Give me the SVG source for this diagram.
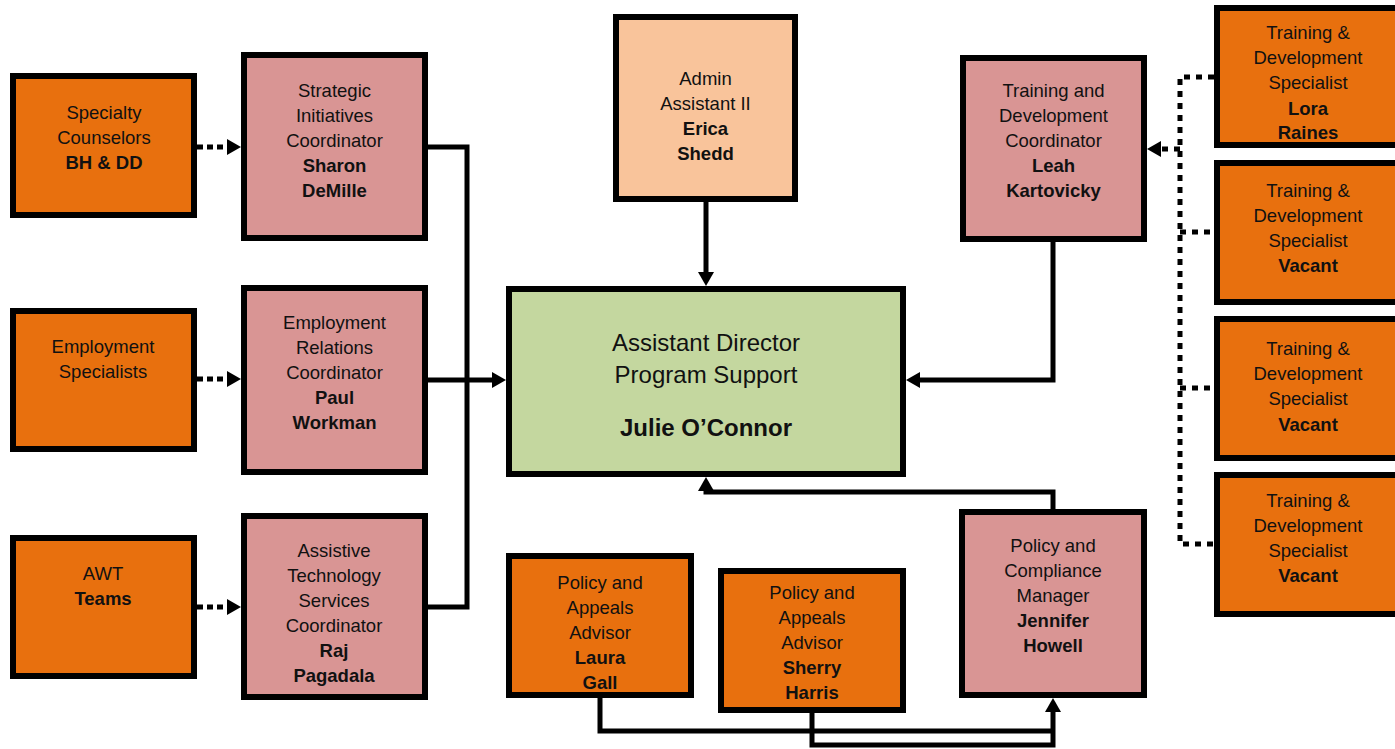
<svg xmlns="http://www.w3.org/2000/svg" width="1395" height="749" viewBox="0 0 1395 749">
<defs>
<style>
.box{stroke:#000;stroke-width:6}
.or{fill:#E8700E}
.pk{fill:#D99594}
.lo{fill:#F9C49B}
.gr{fill:#C4D79F}
text{font-family:"Liberation Sans",Arial,sans-serif;font-size:18.5px;fill:#111;text-anchor:middle}
.b{font-weight:bold}
.big{font-size:24px}
.ln{fill:none;stroke:#000;stroke-width:5}
.dot{fill:none;stroke:#000;stroke-width:5;stroke-dasharray:6 4}
.dot2{fill:none;stroke:#000;stroke-width:5;stroke-dasharray:6 6}
</style>
<marker id="ah" viewBox="0 0 14 16" refX="0" refY="8" markerWidth="14" markerHeight="16" markerUnits="userSpaceOnUse" orient="auto">
<path d="M0,0 L14,8 L0,16 z" fill="#000"/>
</marker>
</defs>
<rect width="1395" height="749" fill="#fff"/>

<g id="connectors">
<path class="dot" d="M197,147 H227" marker-end="url(#ah)"/>
<path class="dot" d="M197,379 H227" marker-end="url(#ah)"/>
<path class="dot" d="M197,607 H227" marker-end="url(#ah)"/>
<path class="ln" d="M428,147 H467 V607 H428"/>
<path class="ln" d="M428,380 H492" marker-end="url(#ah)"/>
<path class="ln" d="M706,202 V272" marker-end="url(#ah)"/>
<path class="ln" d="M1053,242 V380 H920" marker-end="url(#ah)"/>
<path class="ln" d="M1053,509 V492 H706 V491" marker-end="url(#ah)"/>
<path class="ln" d="M600,698 V731 H1053"/>
<path class="ln" d="M812,713 V745 H1053 V712" marker-end="url(#ah)"/>
<path class="dot2" d="M1214,77 H1180 V544 H1214"/>
<path class="dot2" d="M1180,232 H1214"/>
<path class="dot2" d="M1180,388 H1214"/>
<path class="dot2" d="M1180,149 H1161" marker-end="url(#ah)"/>
</g>

<g id="specialty-counselors">
<rect class="box or" x="13" y="76" width="181" height="139"/>
<text x="104" y="119">Specialty</text>
<text x="104" y="144">Counselors</text>
<text x="104" y="169" class="b">BH &amp; DD</text>
</g>

<g id="strategic-initiatives">
<rect class="box pk" x="244" y="55" width="181" height="183"/>
<text x="334.5" y="97">Strategic</text>
<text x="334.5" y="122">Initiatives</text>
<text x="334.5" y="147">Coordinator</text>
<text x="334.5" y="172" class="b">Sharon</text>
<text x="334.5" y="197" class="b">DeMille</text>
</g>

<g id="employment-specialists">
<rect class="box or" x="13" y="311" width="181" height="138"/>
<text x="103" y="353">Employment</text>
<text x="103" y="378">Specialists</text>
</g>

<g id="employment-relations">
<rect class="box pk" x="244" y="288" width="181" height="184"/>
<text x="334.5" y="329">Employment</text>
<text x="334.5" y="354">Relations</text>
<text x="334.5" y="379">Coordinator</text>
<text x="334.5" y="404" class="b">Paul</text>
<text x="334.5" y="429" class="b">Workman</text>
</g>

<g id="awt-teams">
<rect class="box or" x="13" y="538" width="181" height="138"/>
<text x="103" y="580">AWT</text>
<text x="103" y="605" class="b">Teams</text>
</g>

<g id="assistive-technology">
<rect class="box pk" x="244" y="516" width="181" height="181"/>
<text x="334" y="557">Assistive</text>
<text x="334" y="582">Technology</text>
<text x="334" y="607">Services</text>
<text x="334" y="632">Coordinator</text>
<text x="334" y="657" class="b">Raj</text>
<text x="334" y="682" class="b">Pagadala</text>
</g>

<g id="admin-assistant">
<rect class="box lo" x="616" y="17" width="179" height="182"/>
<text x="705.5" y="85">Admin</text>
<text x="705.5" y="110">Assistant II</text>
<text x="705.5" y="135" class="b">Erica</text>
<text x="705.5" y="160" class="b">Shedd</text>
</g>

<g id="assistant-director">
<rect class="box gr" x="509" y="289" width="394" height="185"/>
<text x="706" y="351" class="big">Assistant Director</text>
<text x="706" y="383" class="big">Program Support</text>
<text x="706" y="436" class="big b">Julie O’Connor</text>
</g>

<g id="training-coordinator">
<rect class="box pk" x="963" y="58" width="181" height="181"/>
<text x="1053.5" y="97">Training and</text>
<text x="1053.5" y="122">Development</text>
<text x="1053.5" y="147">Coordinator</text>
<text x="1053.5" y="172" class="b">Leah</text>
<text x="1053.5" y="197" class="b">Kartovicky</text>
</g>

<g id="td-specialist-lora">
<rect class="box or" x="1217" y="8" width="182" height="137"/>
<text x="1308" y="39">Training &amp;</text>
<text x="1308" y="64">Development</text>
<text x="1308" y="89">Specialist</text>
<text x="1308" y="115" class="b">Lora</text>
<text x="1308" y="139" class="b">Raines</text>
</g>

<g id="td-specialist-vacant-1">
<rect class="box or" x="1217" y="163" width="182" height="139"/>
<text x="1308" y="197">Training &amp;</text>
<text x="1308" y="222">Development</text>
<text x="1308" y="247">Specialist</text>
<text x="1308" y="272" class="b">Vacant</text>
</g>

<g id="td-specialist-vacant-2">
<rect class="box or" x="1217" y="319" width="182" height="139"/>
<text x="1308" y="355">Training &amp;</text>
<text x="1308" y="380">Development</text>
<text x="1308" y="405">Specialist</text>
<text x="1308" y="431" class="b">Vacant</text>
</g>

<g id="td-specialist-vacant-3">
<rect class="box or" x="1217" y="475" width="182" height="139"/>
<text x="1308" y="507">Training &amp;</text>
<text x="1308" y="532">Development</text>
<text x="1308" y="557">Specialist</text>
<text x="1308" y="582" class="b">Vacant</text>
</g>

<g id="policy-advisor-laura">
<rect class="box or" x="509" y="556" width="182" height="139"/>
<text x="600" y="589">Policy and</text>
<text x="600" y="614">Appeals</text>
<text x="600" y="639">Advisor</text>
<text x="600" y="664" class="b">Laura</text>
<text x="600" y="689" class="b">Gall</text>
</g>

<g id="policy-advisor-sherry">
<rect class="box or" x="721" y="571" width="182" height="139"/>
<text x="812" y="599">Policy and</text>
<text x="812" y="624">Appeals</text>
<text x="812" y="649">Advisor</text>
<text x="812" y="674" class="b">Sherry</text>
<text x="812" y="699" class="b">Harris</text>
</g>

<g id="policy-compliance-manager">
<rect class="box pk" x="962" y="512" width="182" height="183"/>
<text x="1053" y="552">Policy and</text>
<text x="1053" y="577">Compliance</text>
<text x="1053" y="602">Manager</text>
<text x="1053" y="627" class="b">Jennifer</text>
<text x="1053" y="652" class="b">Howell</text>
</g>
</svg>
